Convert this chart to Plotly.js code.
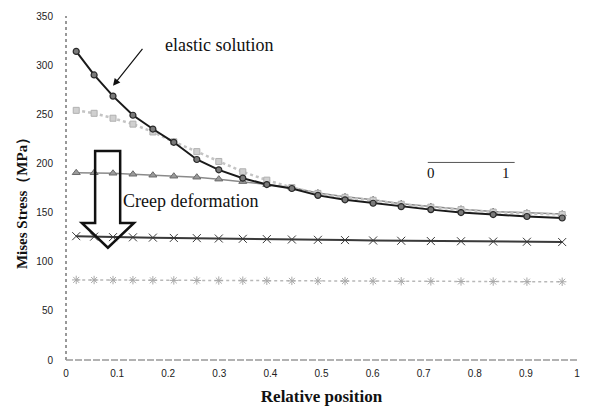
<!DOCTYPE html>
<html>
<head>
<meta charset="utf-8">
<script src="https://cdn.plot.ly/plotly-3.0.1.min.js"></script>
<style>html,body{margin:0;padding:0;background:#fff;}#chart{width:592px;height:408px;}</style>
</head>
<body>
<div id="chart"></div>
<script>
// Relative positions of the nodes
const positions = [0.020, 0.055, 0.092, 0.131, 0.170, 0.211, 0.256, 0.299, 0.346, 0.393,
                   0.442, 0.493, 0.546, 0.601, 0.656, 0.714, 0.773, 0.836, 0.902, 0.971];
// Mises stress (MPa) per curve
const elasticStress = [314, 290, 268.5, 249, 235, 221.5, 204, 193.5, 185, 178.5,
                       174.5, 167.5, 163, 159.5, 156, 153, 150, 148, 146, 144.5];
const creepStage1 = [254, 251, 246, 240, 232, 222, 212, 202, 191.5, 183,
                     175.5, 169.5, 165.5, 162.5, 158.5, 155.5, 153, 150.5, 149, 148];
const creepStage2 = [190.5, 190.5, 190, 189, 188, 187, 186, 184, 181.5, 178.5,
                     175.5, 170, 166, 163, 159, 156, 153.5, 151, 149.5, 148.5];
const creepStage3 = [126, 125.5, 125, 124.8, 124.5, 124.2, 124, 123.6, 123.3, 123,
                     122.6, 122.3, 122, 121.6, 121.3, 121, 120.8, 120.5, 120.3, 120];
const creepStage4 = [81.5, 81.4, 81.3, 81.2, 81.1, 81, 80.9, 80.8, 80.7, 80.6,
                     80.5, 80.4, 80.3, 80.2, 80.1, 80, 79.9, 79.8, 79.7, 79.6];
const xTicks = [0, 0.1, 0.2, 0.3, 0.4, 0.5, 0.6, 0.7, 0.8, 0.9, 1];
const xTickText = ['0', '0.1', '0.2', '0.3', '0.4', '0.5', '0.6', '0.7', '0.8', '0.9', '1'];
const yTicks = [0, 50, 100, 150, 200, 250, 300, 350];

const serif = '"Liberation Serif", "Times New Roman", serif';
const sans = '"Liberation Sans", "DejaVu Sans", sans-serif';

const traces = [
  {x: positions, y: creepStage4, mode: 'lines+markers', line: {color: '#b8b8b8', width: 1.5, dash: 'dot'},
   marker: {symbol: 'asterisk-open', size: 7, color: '#a8a8a8', line: {width: 1, color: '#a8a8a8'}}},
  {x: positions, y: creepStage3, mode: 'lines+markers', line: {color: '#3a3a3a', width: 2},
   marker: {symbol: 'x-thin-open', size: 8, color: '#3a3a3a', line: {width: 1, color: '#3a3a3a'}}},
  {x: positions, y: creepStage2, mode: 'lines+markers', line: {color: '#8a8a8a', width: 1.5},
   marker: {symbol: 'triangle-up', size: 7, color: '#9a9a9a', line: {width: 1, color: '#6a6a6a'}}},
  {x: positions, y: creepStage1, mode: 'lines+markers', line: {color: '#c4c4c4', width: 2.5, dash: 'dot'},
   marker: {symbol: 'square', size: 6, color: '#d0d0d0', line: {width: 1, color: '#b0b0b0'}}},
  {x: positions, y: elasticStress, mode: 'lines+markers', line: {color: '#1a1a1a', width: 2},
   marker: {symbol: 'circle', size: 6, color: '#7a7a7a', line: {width: 1.2, color: '#2a2a2a'}}}
];

const layout = {
  width: 592, height: 408,
  margin: {l: 66, r: 15, t: 16, b: 48},
  paper_bgcolor: '#fff', plot_bgcolor: '#fff',
  showlegend: false,
  xaxis: {
    range: [0, 1], tickvals: xTicks, ticktext: xTickText, showgrid: false, zeroline: false,
    showline: false, ticks: '', ticklabelstandoff: 6,
    tickfont: {family: sans, size: 10, color: '#222'},
    title: {text: '<b>Relative position</b>', font: {family: serif, size: 17, color: '#111'}, standoff: 12}
  },
  yaxis: {
    range: [0, 350], tickvals: yTicks, showgrid: false, zeroline: false,
    showline: false, ticks: '', ticklabelstandoff: 12,
    tickfont: {family: sans, size: 10, color: '#222'}
  },
  shapes: [
    {type: 'line', xref: 'paper', yref: 'paper', x0: 0, x1: 0, y0: 0, y1: 1,
     line: {color: '#333', width: 1, dash: 'dot'}},
    {type: 'line', xref: 'paper', yref: 'paper', x0: 0, x1: 1, y0: 0, y1: 0,
     line: {color: '#999', width: 1.3, dash: '7px,2px'}},
    // hollow down arrow
    {type: 'path', xref: 'x', yref: 'y',
     path: 'M 0.057 212.6 L 0.106 212.6 L 0.106 139.4 L 0.133 139.4 L 0.082 114.2 L 0.031 139.4 L 0.057 139.4 Z',
     line: {color: '#111', width: 2.5}, fillcolor: 'rgba(0,0,0,0)'},
    // scale bar 0 - 1
    {type: 'line', xref: 'x', yref: 'y', x0: 0.708, x1: 0.878, y0: 201, y1: 201,
     line: {color: '#555', width: 1}}
  ],
  annotations: [
    {x: -0.086, y: 0.465, xref: 'paper', yref: 'paper', text: '<b>Mises Stress（MPa）</b>', textangle: -90,
     showarrow: false, xanchor: 'center', yanchor: 'middle',
     font: {family: serif, size: 15, color: '#111'}},
    {x: 0.3, y: 321, xref: 'x', yref: 'y', text: 'elastic solution', showarrow: false,
     font: {family: serif, size: 18, color: '#111'}},
    {x: 0.092, y: 279, ax: 0.152, ay: 318, axref: 'x', ayref: 'y', xref: 'x', yref: 'y', text: '',
     showarrow: true, arrowhead: 2, arrowsize: 1.2, arrowwidth: 1.2, arrowcolor: '#111', standoff: 0},
    {x: 0.108, y: 162, xref: 'x', yref: 'y', xanchor: 'left', text: 'Creep deformation', showarrow: false,
     font: {family: serif, size: 18, color: '#111'}},
    {x: 0.714, y: 190, xref: 'x', yref: 'y', text: '0', showarrow: false,
     font: {family: serif, size: 15, color: '#111'}},
    {x: 0.862, y: 190, xref: 'x', yref: 'y', text: '1', showarrow: false,
     font: {family: serif, size: 15, color: '#111'}}
  ]
};

Plotly.newPlot('chart', traces, layout, {displayModeBar: false, staticPlot: true});
</script>
</body>
</html>
